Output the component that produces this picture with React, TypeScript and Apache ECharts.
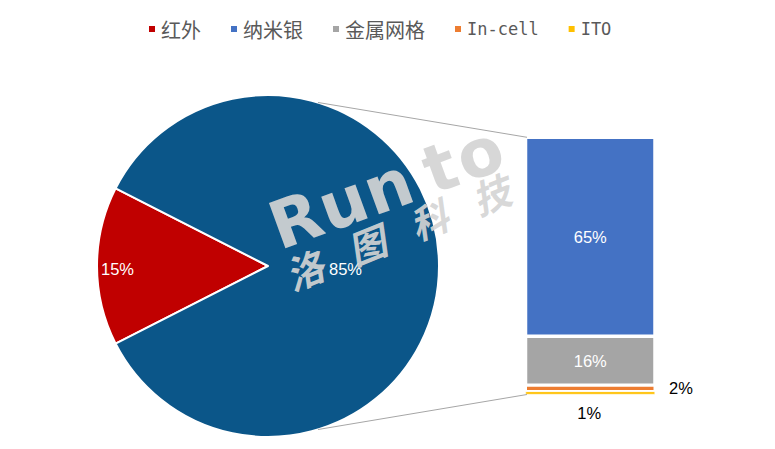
import React, { useEffect, useRef } from "react";
import * as echarts from "echarts";

// Legend order and series data
const legendNames = ["红外", "纳米银", "金属网格", "In-cell", "ITO"];
const pieNames = ["红外", "其他"];
const pieValues = [15, 85];
const barNames = ["纳米银", "金属网格", "In-cell", "ITO"];
const barValues = [65, 16, 2, 1];

const PIE_COLORS = ["#C00000", "#0B5689"];
const BAR_COLORS = ["#4472C4", "#A5A5A5", "#ED7D31", "#FFC000"];

// Layout
const PIE_CX = 268;
const PIE_CY = 266;
const PIE_R = 171;
const GRID_LEFT = 525.5;
const GRID_TOP = 137.3;
const GRID_W = 129.5;
const GRID_H = 257.2;
const CONNECT_ANGLE = 73; // degrees from the horizontal

const FONT = "'Liberation Sans', Arial, sans-serif";

export default function App() {
  const ref = useRef<HTMLDivElement>(null);

  useEffect(() => {
    if (!ref.current) return;
    const chart = echarts.init(ref.current, undefined, { renderer: "svg" });

    const barTotal = barValues.reduce((a, b) => a + b, 0);
    const rad = (CONNECT_ANGLE * Math.PI) / 180;
    const topPt = [PIE_CX + PIE_R * Math.cos(rad), PIE_CY - PIE_R * Math.sin(rad)];
    const botPt = [PIE_CX + PIE_R * Math.cos(rad), PIE_CY + PIE_R * Math.sin(rad)];

    // Stack is built bottom-up, so reverse the top-down order
    const stackOrder = [3, 2, 1, 0];
    const barLabel = (i: number) => {
      if (i === 2)
        return { show: true, position: "right", distance: 14, color: "#000", fontSize: 16.5, fontFamily: FONT, formatter: "{c}%" };
      if (i === 3)
        return { show: true, position: "bottom", distance: 9, offset: [-1, 1], color: "#000", fontSize: 16.5, fontFamily: FONT, formatter: "{c}%" };
      return { show: true, position: "inside", color: "#fff", fontSize: 16.5, fontFamily: FONT, formatter: "{c}%" };
    };
    // Bar borders are drawn inside each segment
    const barBorder = [1.75, 1.75, 1.5, 0.5];

    const barSeries = stackOrder.map((i) => ({
      type: "bar",
      name: barNames[i],
      stack: "total",
      barWidth: "100%",
      data: [barValues[i]],
      itemStyle: { color: BAR_COLORS[i], borderColor: "#fff", borderWidth: barBorder[i] },
      label: barLabel(i),
    }));

    const isLatin = (s: string) => /^[A-Za-z0-9\-]+$/.test(s);

    // Brand watermark glyphs laid along a tilted baseline
    const WM_FILL = "rgba(212,212,212,0.92)";
    const along = (ox: number, oy: number, deg: number, lx: number, ly: number) => {
      const t = (deg * Math.PI) / 180;
      return [ox + lx * Math.cos(t) + ly * Math.sin(t), oy - lx * Math.sin(t) + ly * Math.cos(t)];
    };
    const runto = ["R", "u", "n", "t", "o"];
    const runtoX = [0, 52, 100, 163, 198];
    const cnMark = ["洛", "图", "科", "技"];
    const watermark = [
      ...runto.map((ch, i) => {
        const [x, y] = along(279, 248, 20, runtoX[i], 13);
        return {
          type: "text",
          x,
          y,
          rotation: (20 * Math.PI) / 180,
          z: 50,
          style: {
            text: ch,
            fontSize: 66,
            fontWeight: 600,
            fontFamily: "'DejaVu Sans', sans-serif",
            fill: WM_FILL,
            textVerticalAlign: "bottom",
          },
        };
      }),
      ...cnMark.map((ch, i) => {
        const [x, y] = along(304, 269, 22, i * 67, 0);
        return {
          type: "text",
          x,
          y,
          rotation: (22 * Math.PI) / 180,
          z: 50,
          style: {
            text: ch,
            fontSize: 38,
            fontWeight: "bold",
            fontStyle: "italic",
            fontFamily: "'Noto Sans CJK SC', sans-serif",
            fill: WM_FILL,
            textAlign: "center",
            textVerticalAlign: "middle",
          },
        };
      }),
    ];

    chart.setOption({
      animation: false,
      legend: {
        data: legendNames,
        left: 147,
        top: 19,
        padding: 0,
        itemWidth: 8,
        itemHeight: 8,
        itemGap: 28,
        icon: "rect",
        formatter: (name: string) => (isLatin(name) ? `{en|${name}}` : `{cn|${name}}`),
        textStyle: {
          color: "#595959",
          rich: {
            cn: { fontSize: 20, fontFamily: "'Noto Sans CJK SC', sans-serif", color: "#595959" },
            en: { fontSize: 17, fontFamily: "'DejaVu Sans Mono', monospace", color: "#595959" },
          },
        },
      },
      grid: { left: GRID_LEFT, top: GRID_TOP, width: GRID_W, height: GRID_H },
      xAxis: { type: "category", data: [""], show: false },
      yAxis: { type: "value", min: 0, max: barTotal, show: false },
      series: [
        {
          type: "pie",
          name: "pie",
          center: [PIE_CX, PIE_CY],
          radius: [0, PIE_R],
          startAngle: 180 + 27,
          clockwise: true,
          data: pieNames.map((n, i) => ({ name: n, value: pieValues[i], itemStyle: { color: PIE_COLORS[i] } })),
          itemStyle: { borderColor: "#fff", borderWidth: 2 },
          label: { show: true, position: "inside", color: "#fff", fontSize: 16.5, fontFamily: FONT, formatter: "{c}%" },
          labelLine: { show: false },
          labelLayout: (p: any) => (p.dataIndex === 0 ? { dx: -62, dy: 3 } : { dx: -11, dy: 3 }),
          emphasis: { disabled: true },
        },
        ...barSeries,
      ],
      graphic: [
        {
          type: "line",
          shape: { x1: topPt[0], y1: topPt[1], x2: GRID_LEFT + 1.5, y2: GRID_TOP },
          style: { stroke: "#A6A6A6", lineWidth: 1 },
          z: 5,
        },
        {
          type: "line",
          shape: { x1: botPt[0], y1: botPt[1], x2: GRID_LEFT + 1.5, y2: GRID_TOP + GRID_H },
          style: { stroke: "#A6A6A6", lineWidth: 1 },
          z: 5,
        },
        ...watermark,
      ],
    });

    return () => chart.dispose();
  }, []);

  return <div ref={ref} style={{ width: 775, height: 449, margin: -8 }} />;
}
